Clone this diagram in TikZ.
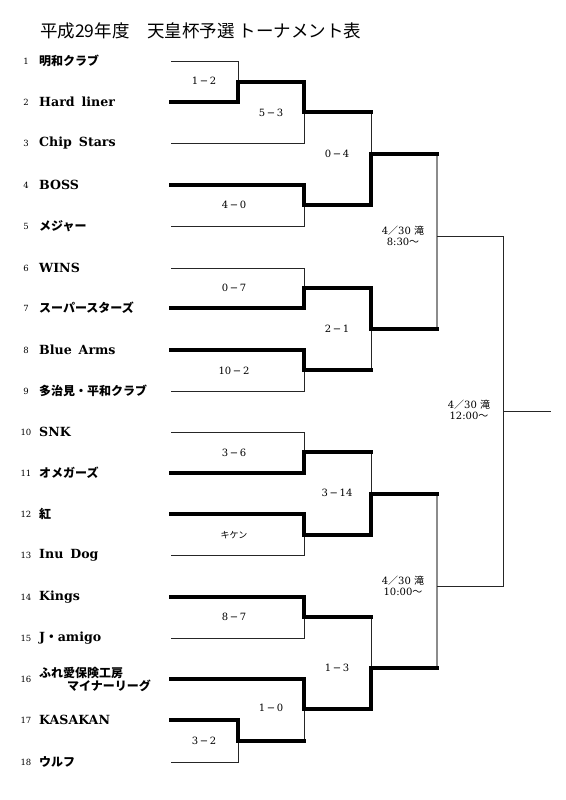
\documentclass[tikz,border=0pt]{standalone}
\usepackage{fontspec}
\setmainfont{DejaVu Serif}
\newfontfamily\jp{Noto Sans CJK JP}
\begin{document}
\begin{tikzpicture}[x=1pt,y=-1pt,
  lo/.style={line width=0.9pt,black!85},
  win/.style={line width=3.4pt,black,line cap=rect,line join=miter},
  semi/.style={line width=1.4pt,black!45},
  num/.style={inner sep=0pt,font=\fontsize{8.5}{8.5}\selectfont},
  teamL/.style={anchor=west,inner sep=0pt,font=\fontsize{12.6}{12.6}\selectfont\bfseries},
  teamJ/.style={anchor=west,inner sep=0pt,font=\fontsize{12}{12}\selectfont\jp\bfseries},
  score/.style={inner sep=0pt,font=\fontsize{10}{10}\selectfont},
  round/.style={inner sep=0pt,align=center,font=\fontsize{10}{11.5}\selectfont}]
\useasboundingbox (0,0) rectangle (565,800);

% title
\node[anchor=west,inner sep=0pt,font=\fontsize{17.5}{17.5}\selectfont\jp] (title) at (40,31)
  {平成29年度　天皇杯予選 トーナメント表};

% team numbers and names
\foreach \n/\y in {1/61,2/102,3/143,4/185,5/226,6/268,7/308,8/350,9/391,10/432,11/473,12/514,13/555,14/597,15/638,16/679,17/720,18/762}{
  \node[num] (no\n) at (26,\y) {\n};
  \coordinate (T\n) at (171,\y);
}
\node[teamJ] (n1) at (39,61) {明和クラブ};
\node[teamL] (n2) at (39,102) {Hard\hspace{0.55em}liner};
\node[teamL] (n3) at (39,143) {Chip\hspace{0.55em}Stars};
\node[teamL] (n4) at (39,185) {BOSS};
\node[teamJ] (n5) at (39,226) {メジャー};
\node[teamL] (n6) at (39,268) {WINS};
\node[teamJ] (n7) at (39,308) {スーパースターズ};
\node[teamL] (n8) at (39,350) {Blue\hspace{0.55em}Arms};
\node[teamJ] (n9) at (39,391) {多治見・平和クラブ};
\node[teamL] (n10) at (39,432) {SNK};
\node[teamJ] (n11) at (39,473) {オメガーズ};
\node[teamJ] (n12) at (39,514) {紅};
\node[teamL] (n13) at (39,555) {Inu\hspace{0.55em}Dog};
\node[teamL] (n14) at (39,597) {Kings};
\node[teamL] (n15) at (39,638) {J{\jp ・}amigo};
\node[teamJ] (n16a) at (39,673) {ふれ愛保険工房};
\node[teamJ] (n16b) at (67,686) {マイナーリーグ};
\node[teamL] (n17) at (39,720) {KASAKAN};
\node[teamJ] (n18) at (39,762) {ウルフ};

% match points
\coordinate (P12) at (238,82);
\coordinate (P53) at (304,112);
\coordinate (P40) at (304,205);
\coordinate (P04) at (371,154);
\coordinate (P07) at (304,288);
\coordinate (P102) at (304,370);
\coordinate (P21) at (371,329);
\coordinate (S1) at (437,236);
\coordinate (P36) at (304,452);
\coordinate (PKK) at (304,535);
\coordinate (P314) at (371,494);
\coordinate (P87) at (304,617);
\coordinate (P32) at (238,741);
\coordinate (P10) at (304,709);
\coordinate (P13) at (371,668);
\coordinate (S2) at (437,586);
\coordinate (F) at (503,411);
\coordinate (E) at (551,411);

% losing (thin) lines
\draw[lo] (T1) -| (P12);
\draw[lo] (T3) -| (P53);
\draw[lo] (T5) -| (P40);
\draw[lo] (P53 -| P04) -- (P04);
\draw[lo] (T6) -| (P07);
\draw[lo] (T9) -| (P102);
\draw[lo] (P102 -| P21) -- (P21);
\draw[lo] (T10) -| (P36);
\draw[lo] (T13) -| (PKK);
\draw[lo] (P36 -| P314) -- (P314);
\draw[lo] (T15) -| (P87);
\draw[lo] (T18) -| (P32);
\draw[lo] (P32 -| P10) -- (P10);
\draw[lo] (P87 -| P13) -- (P13);

% semifinals and final
\draw[semi] (P04 -| S1) -- (P21 -| S1);
\draw[semi] (P314 -| S2) -- (P13 -| S2);
\draw[lo] (S1) -- (S1 -| F) -- (S2 -| F) -- (S2);
\draw[lo] (F) -- (E);

% winning (thick) lines
\draw[win] (T2) -| (P12) -- (P12 -| P53);
\draw[win] (P12 -| P53) -- (P53) -- (P53 -| P04);
\draw[win] (T4) -| (P40) -- (P40 -| P04);
\draw[win] (P40 -| P04) -- (P04) -- (P04 -| S1);
\draw[win] (T7) -| (P07) -- (P07 -| P21);
\draw[win] (T8) -| (P102) -- (P102 -| P21);
\draw[win] (P07 -| P21) -- (P21) -- (P21 -| S1);
\draw[win] (T11) -| (P36) -- (P36 -| P314);
\draw[win] (T12) -| (PKK) -- (PKK -| P314);
\draw[win] (PKK -| P314) -- (P314) -- (P314 -| S2);
\draw[win] (T14) -| (P87) -- (P87 -| P13);
\draw[win] (T17) -| (P32) -- (P32 -| P10);
\draw[win] (T16) -| (P10) -- (P10 -| P13);
\draw[win] (P10 -| P13) -- (P13) -- (P13 -| S2);

% scores
\node[score] (s12) at (204,81) {1\,−\,2};
\node[score] (s53) at (271,113) {5\,−\,3};
\node[score] (s40) at (234,205) {4\,−\,0};
\node[score] (s04) at (337,154) {0\,−\,4};
\node[score] (s07) at (234,288) {0\,−\,7};
\node[score] (s102) at (234,371) {10\,−\,2};
\node[score] (s21) at (337,329) {2\,−\,1};
\node[score] (s36) at (234,453) {3\,−\,6};
\node[score,font=\fontsize{9}{9}\selectfont\jp] (skk) at (234,535) {キケン};
\node[score] (s314) at (337,493) {3\,−\,14};
\node[score] (s87) at (234,617) {8\,−\,7};
\node[score] (s10) at (271,708) {1\,−\,0};
\node[score] (s13) at (337,668) {1\,−\,3};
\node[score] (s32) at (204,741) {3\,−\,2};

% round labels
\node[round] (r1) at (403,236) {4{\jp ／}30 {\jp 滝}\\8:30{\jp ～}};
\node[round] (r2) at (403,586) {4{\jp ／}30 {\jp 滝}\\10:00{\jp ～}};
\node[round] (r3) at (469,410) {4{\jp ／}30 {\jp 滝}\\12:00{\jp ～}};
\end{tikzpicture}
\end{document}
